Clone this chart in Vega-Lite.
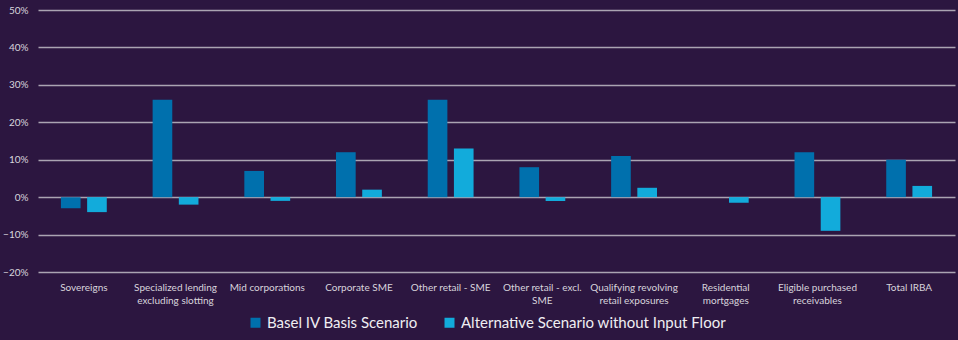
{
  "$schema": "https://vega.github.io/schema/vega-lite/v6.json",
  "width": 917,
  "height": 262,
  "autosize": {"type": "none"},
  "padding": {"left": 38, "top": 10, "right": 3, "bottom": 68},
  "background": "#2c1640",
  "config": {
    "view": {"stroke": null},
    "font": "Lato"
  },
  "data": {
    "values": [
      {"category": "Sovereigns", "scenario": "Basel IV Basis Scenario", "value": -0.03},
      {"category": "Sovereigns", "scenario": "Alternative Scenario without Input Floor", "value": -0.04},
      {"category": "Specialized lending excluding slotting", "scenario": "Basel IV Basis Scenario", "value": 0.26},
      {"category": "Specialized lending excluding slotting", "scenario": "Alternative Scenario without Input Floor", "value": -0.02},
      {"category": "Mid corporations", "scenario": "Basel IV Basis Scenario", "value": 0.07},
      {"category": "Mid corporations", "scenario": "Alternative Scenario without Input Floor", "value": -0.01},
      {"category": "Corporate SME", "scenario": "Basel IV Basis Scenario", "value": 0.12},
      {"category": "Corporate SME", "scenario": "Alternative Scenario without Input Floor", "value": 0.02},
      {"category": "Other retail - SME", "scenario": "Basel IV Basis Scenario", "value": 0.26},
      {"category": "Other retail - SME", "scenario": "Alternative Scenario without Input Floor", "value": 0.13},
      {"category": "Other retail - excl. SME", "scenario": "Basel IV Basis Scenario", "value": 0.08},
      {"category": "Other retail - excl. SME", "scenario": "Alternative Scenario without Input Floor", "value": -0.01},
      {"category": "Qualifying revolving retail exposures", "scenario": "Basel IV Basis Scenario", "value": 0.11},
      {"category": "Qualifying revolving retail exposures", "scenario": "Alternative Scenario without Input Floor", "value": 0.025},
      {"category": "Residential mortgages", "scenario": "Basel IV Basis Scenario", "value": 0.0},
      {"category": "Residential mortgages", "scenario": "Alternative Scenario without Input Floor", "value": -0.015},
      {"category": "Eligible purchased receivables", "scenario": "Basel IV Basis Scenario", "value": 0.12},
      {"category": "Eligible purchased receivables", "scenario": "Alternative Scenario without Input Floor", "value": -0.09},
      {"category": "Total IRBA", "scenario": "Basel IV Basis Scenario", "value": 0.10},
      {"category": "Total IRBA", "scenario": "Alternative Scenario without Input Floor", "value": 0.03}
    ]
  },
  "mark": {"type": "bar"},
  "encoding": {
    "x": {
      "field": "category",
      "type": "nominal",
      "sort": null,
      "scale": {"paddingInner": 0.5, "paddingOuter": 0.25},
      "axis": {
        "title": null,
        "labelAngle": 0,
        "labelColor": "#d8d4dc",
        "labelFontSize": 10,
        "labelPadding": 10,
        "labelLineHeight": 13,
        "labelBaseline": "top",
        "labelLimit": 200,
        "ticks": false,
        "domain": false,
        "labelExpr": "datum.value == 'Specialized lending excluding slotting' ? ['Specialized lending', 'excluding slotting'] : datum.value == 'Other retail - excl. SME' ? ['Other retail - excl.', 'SME'] : datum.value == 'Qualifying revolving retail exposures' ? ['Qualifying revolving', 'retail exposures'] : datum.value == 'Residential mortgages' ? ['Residential', 'mortgages'] : datum.value == 'Eligible purchased receivables' ? ['Eligible purchased', 'receivables'] : datum.value"
      }
    },
    "xOffset": {
      "field": "scenario",
      "type": "nominal",
      "sort": ["Basel IV Basis Scenario", "Alternative Scenario without Input Floor"],
      "scale": {"paddingInner": 0.25}
    },
    "y": {
      "field": "value",
      "type": "quantitative",
      "scale": {"domain": [-0.2, 0.5], "nice": false},
      "axis": {
        "title": null,
        "format": ".0%",
        "values": [-0.2, -0.1, 0, 0.1, 0.2, 0.3, 0.4, 0.5],
        "labelOverlap": false,
        "labelColor": "#d8d4dc",
        "labelFontSize": 10,
        "labelPadding": 10,
        "ticks": false,
        "domain": false,
        "gridColor": "#aaa4b2",
        "gridWidth": 1.3,
        "gridOpacity": 1
      }
    },
    "color": {
      "field": "scenario",
      "type": "nominal",
      "sort": ["Basel IV Basis Scenario", "Alternative Scenario without Input Floor"],
      "scale": {"range": ["#0070ad", "#12abdb"]},
      "legend": {
        "title": null,
        "orient": "none",
        "legendX": 210,
        "legendY": 305,
        "direction": "horizontal",
        "labelColor": "#f0eef2",
        "labelFontSize": 15,
        "labelOffset": 4,
        "symbolType": "square",
        "symbolSize": 100,
        "symbolStrokeWidth": 0,
        "columnPadding": 24,
        "labelLimit": 400
      }
    }
  }
}
